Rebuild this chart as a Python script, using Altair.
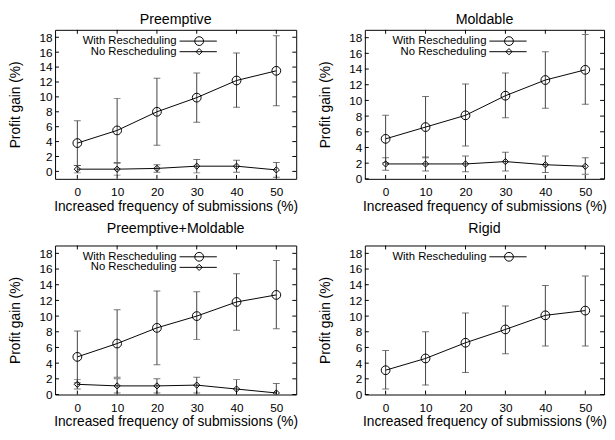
import altair as alt
import pandas as pd

FONT = "Liberation Sans"

x_vals = [0, 10, 20, 30, 40, 50]
x_ticks = [0, 10, 20, 30, 40, 50]
y_ticks = [0, 2, 4, 6, 8, 10, 12, 14, 16, 18]
series_names = ["With Rescheduling", "No Rescheduling"]
panel_titles = ["Preemptive", "Moldable", "Preemptive+Moldable", "Rigid"]
x_title = "Increased frequency of submissions (%)"
y_title = "Profit gain (%)"

# Preemptive
pre_with = [3.8, 5.5, 8.0, 9.9, 12.2, 13.5]
pre_with_lo = [0.8, 1.2, 3.5, 6.6, 8.6, 8.8]
pre_with_hi = [6.8, 9.8, 12.5, 13.2, 15.9, 18.2]
pre_no = [0.3, 0.3, 0.4, 0.7, 0.7, 0.2]
pre_no_lo = [-0.2, -0.5, -0.1, -0.2, -0.1, -0.8]
pre_no_hi = [0.8, 1.1, 0.9, 1.6, 1.5, 1.2]

# Moldable
mol_with = [5.1, 6.6, 8.1, 10.6, 12.6, 13.9]
mol_with_lo = [2.1, 2.7, 4.2, 7.8, 9.0, 9.5]
mol_with_hi = [8.1, 10.5, 12.1, 13.5, 16.2, 18.4]
mol_no = [1.9, 1.9, 1.9, 2.2, 1.8, 1.6]
mol_no_lo = [1.1, 1.0, 0.9, 1.0, 0.8, 0.6]
mol_no_hi = [2.7, 2.8, 2.9, 3.4, 2.9, 2.7]

# Preemptive+Moldable
pm_with = [4.8, 6.5, 8.5, 10.0, 11.8, 12.7]
pm_with_lo = [1.5, 2.2, 3.8, 7.0, 8.2, 8.4]
pm_with_hi = [8.1, 10.8, 13.2, 13.1, 15.4, 17.1]
pm_no = [1.3, 1.1, 1.1, 1.2, 0.7, 0.2]
pm_no_lo = [0.7, 0.2, 0.2, 0.2, -0.5, -1.0]
pm_no_hi = [1.9, 2.0, 2.0, 2.2, 1.9, 1.4]

# Rigid
rig_with = [3.1, 4.6, 6.6, 8.3, 10.1, 10.7]
rig_with_lo = [0.7, 1.2, 2.8, 5.2, 6.2, 6.2]
rig_with_hi = [5.6, 8.0, 10.4, 11.3, 13.9, 15.1]

EC = "#404040"
SHAPES = {"With Rescheduling": "circle", "No Rescheduling": "diamond"}
SIZES = {"With Rescheduling": 80, "No Rescheduling": 40}


def make_df(series_list):
    rows = []
    for name, ys, los, his in series_list:
        for x, y, lo, hi in zip(x_vals, ys, los, his):
            rows.append({"x": x, "y": y, "lo": lo, "hi": hi, "series": name})
    return pd.DataFrame(rows)


def panel(title, series_list, xdom, ydom, W, H, toff):
    df = make_df(series_list)
    names = [s[0] for s in series_list]
    xs = alt.Scale(domain=xdom, nice=False, zero=False)
    ys = alt.Scale(domain=ydom, nice=False, zero=False)
    xax = alt.Axis(values=x_ticks, title=x_title)
    yax = alt.Axis(values=y_ticks, title=y_title)
    X = alt.X("x:Q", scale=xs, axis=xax)
    base = alt.Chart(df)

    layers = []
    layers.append(base.mark_rule(color=EC, strokeWidth=1, clip=True).encode(
        x=X, y=alt.Y("lo:Q", scale=ys, axis=yax), y2="hi:Q"))
    layers.append(base.mark_tick(orient="horizontal", size=7, thickness=1, color=EC, clip=True).encode(
        x=X, y=alt.Y("lo:Q", scale=ys, axis=yax)))
    layers.append(base.mark_tick(orient="horizontal", size=7, thickness=1, color=EC, clip=True).encode(
        x=X, y=alt.Y("hi:Q", scale=ys, axis=yax)))
    layers.append(base.mark_line(color="black", strokeWidth=1, clip=True).encode(
        x=X, y=alt.Y("y:Q", scale=ys, axis=yax), detail="series:N"))
    for name in names:
        layers.append(base.transform_filter(alt.datum.series == name).mark_point(
            shape=SHAPES[name], size=SIZES[name], filled=False, color="black",
            strokeWidth=1, opacity=1, clip=True).encode(
            x=X, y=alt.Y("y:Q", scale=ys, axis=yax)))

    # inward frame ticks (gnuplot style)
    ydf = pd.DataFrame({"v": y_ticks})
    xdf = pd.DataFrame({"v": x_ticks})
    YT = alt.Y("v:Q", scale=ys, axis=yax)
    XT = alt.X("v:Q", scale=xs, axis=xax)
    layers.append(alt.Chart(ydf).mark_rule(color="black").encode(y=YT, x=alt.value(0), x2=alt.value(4)))
    layers.append(alt.Chart(ydf).mark_rule(color="black").encode(y=YT, x=alt.value(W - 4), x2=alt.value(W)))
    layers.append(alt.Chart(xdf).mark_rule(color="black").encode(x=XT, y=alt.value(H), y2=alt.value(H - 4)))
    layers.append(alt.Chart(xdf).mark_rule(color="black").encode(x=XT, y=alt.value(0), y2=alt.value(4)))

    # key, gnuplot style (label, then sample line and point)
    leg_y = [11.5, 22.3]
    for i, name in enumerate(names):
        d = pd.DataFrame({"name": [name]})
        ly = leg_y[i]
        layers.append(alt.Chart(d).mark_text(align="right", baseline="middle", font=FONT,
                                             fontSize=11.5, color="black").encode(
            text="name:N", x=alt.value(124), y=alt.value(ly)))
        layers.append(alt.Chart(d).mark_rule(color="black", strokeWidth=1).encode(
            x=alt.value(127), x2=alt.value(165), y=alt.value(ly)))
        layers.append(alt.Chart(d).mark_point(shape=SHAPES[name], size=SIZES[name], filled=False,
                                              color="black", strokeWidth=1, opacity=1).encode(
            x=alt.value(147), y=alt.value(ly)))

    return alt.layer(*layers).properties(
        width=W, height=H, title=alt.TitleParams(title, offset=toff))


p1 = panel(panel_titles[0], [
    (series_names[0], pre_with, pre_with_lo, pre_with_hi),
    (series_names[1], pre_no, pre_no_lo, pre_no_hi)], [-5.6, 55], [-1, 19], 246, 152, 1.5)
p2 = panel(panel_titles[1], [
    (series_names[0], mol_with, mol_with_lo, mol_with_hi),
    (series_names[1], mol_no, mol_no_lo, mol_no_hi)], [-5.2, 54.7], [0, 19], 244, 152, 1.5)
p3 = panel(panel_titles[2], [
    (series_names[0], pm_with, pm_with_lo, pm_with_hi),
    (series_names[1], pm_no, pm_no_lo, pm_no_hi)], [-5.6, 55], [0, 19], 246, 152, 9)
p4 = panel(panel_titles[3], [
    (series_names[0], rig_with, rig_with_lo, rig_with_hi)], [-5.2, 54.7], [0, 19], 244, 152, 9)

chart = alt.concat(p1, p2, p3, p4, columns=2, spacing={"row": 68, "column": 70},
                   bounds="flush").properties(padding=0).configure(
    font=FONT
).configure_view(
    stroke="black", strokeWidth=1
).configure_axis(
    domain=False, ticks=False, grid=False,
    labelFont=FONT, labelFontSize=12, labelColor="black",
    titleFont=FONT, titleFontSize=14, titleFontWeight="normal", titleColor="black"
).configure_axisX(
    labelPadding=8, titlePadding=2
).configure_axisY(
    labelPadding=3, titlePadding=16.5
).configure_title(
    font=FONT, fontSize=14.5, fontWeight="normal", color="black", anchor="middle",
    baseline="top"
)

chart.save("out.html", embed_options={"renderer": "svg", "actions": False})
